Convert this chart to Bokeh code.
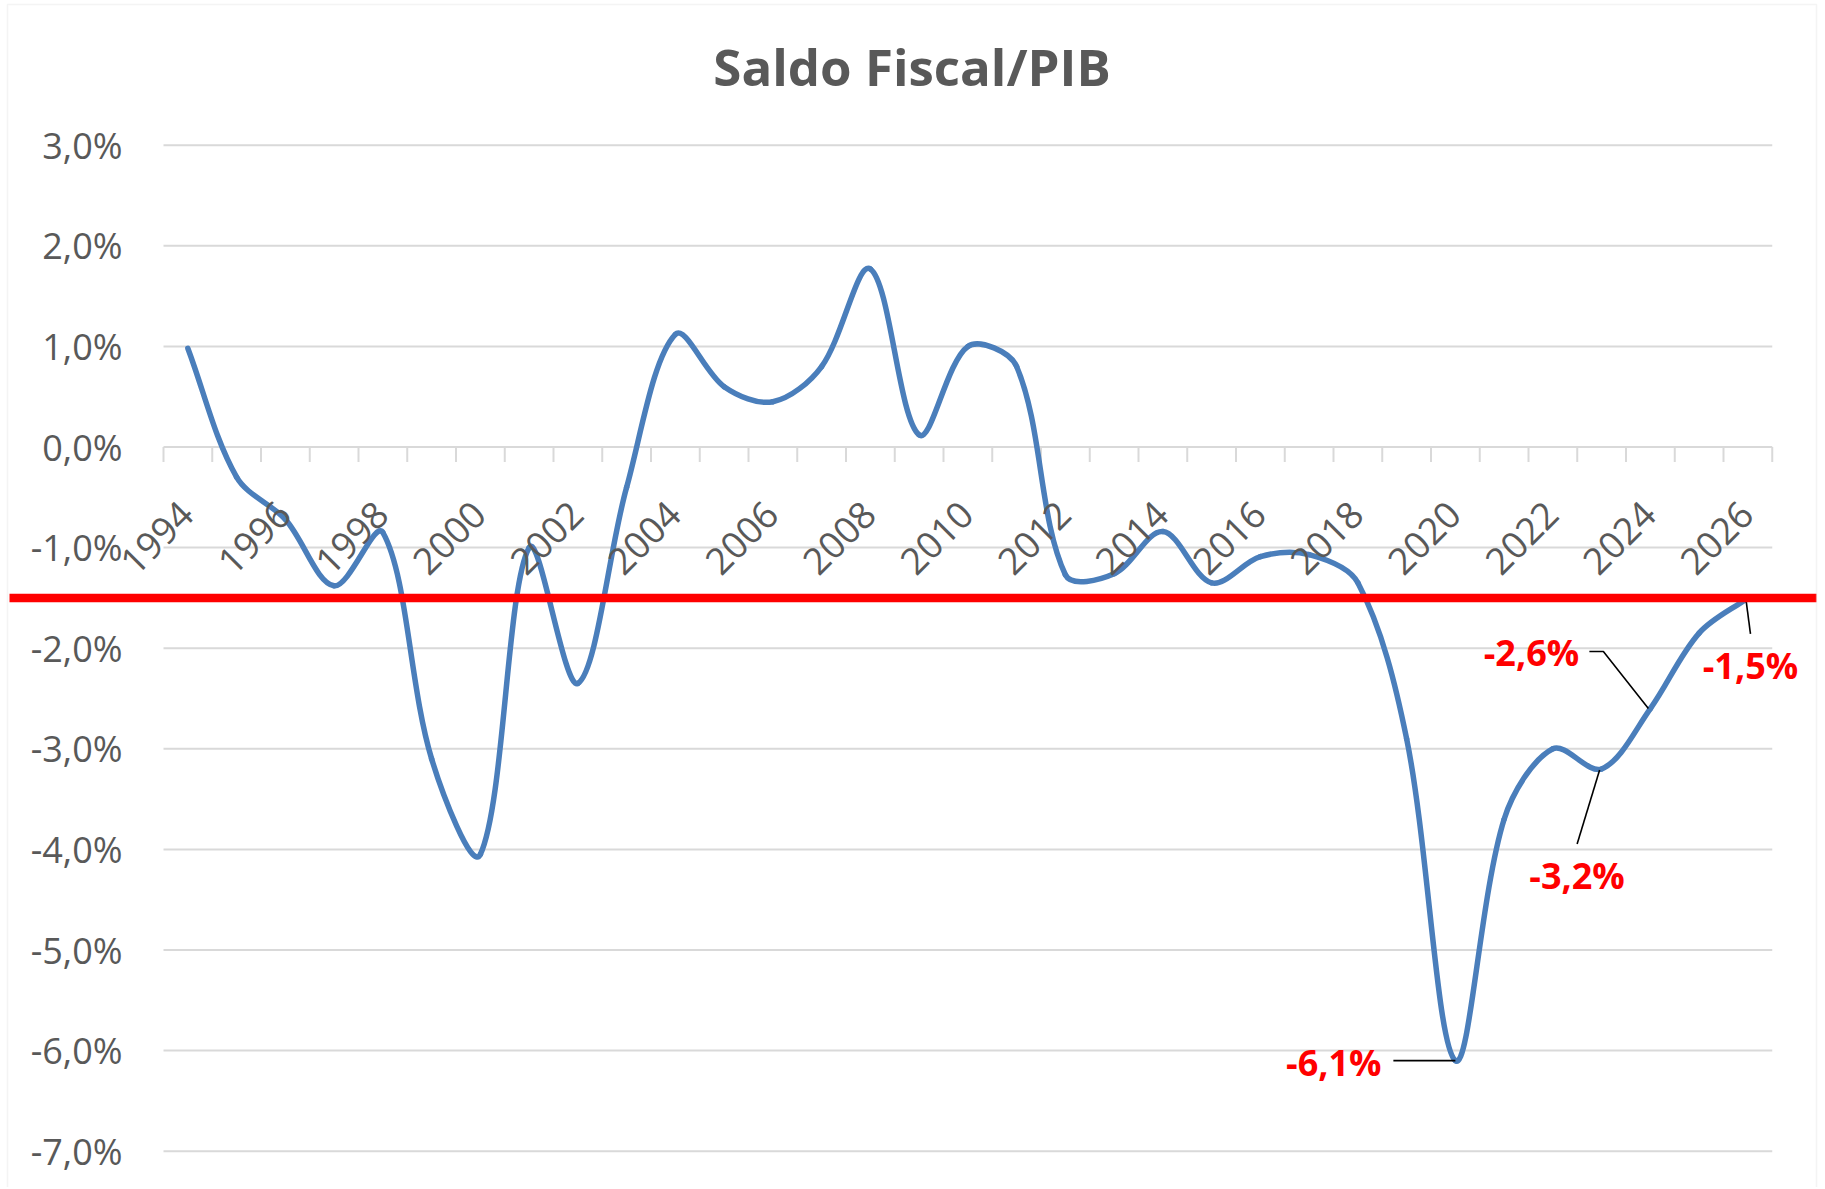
import numpy as np
from bokeh.plotting import figure
from bokeh.models import Range1d, BoxAnnotation
from bokeh.core.properties import value
from bokeh.embed import file_html
from bokeh.resources import INLINE

# ---------------- data ----------------
years = list(range(1994, 2027))
saldo = [0.98, -0.30, -0.72, -1.38, -0.85, -3.10, -4.05, -1.00, -2.35, -0.40,
         1.12, 0.60, 0.45, 0.80, 1.77, 0.12, 1.00, 0.80, -1.27, -1.26,
         -0.84, -1.35, -1.09, -1.07, -1.35, -2.90, -6.10, -3.70, -3.00, -3.20,
         -2.60, -1.85, -1.50]
label_years = years[::2]
y_ticks = [3, 2, 1, 0, -1, -2, -3, -4, -5, -6, -7]
ref_level = -1.5
callout_years = [2020, 2024, 2023, 2026]
title_text = "Saldo Fiscal/PIB"

# ---------------- layout (pixels) ----------------
W, H = 1822, 1187
PL, PR = 163.0, 1771.75          # plot area left / right
PT, PB = 144.7, 1150.7           # y of top tick / bottom tick
X0, X1 = years[0] - 0.5, years[-1] + 0.5
Y0, Y1 = min(y_ticks), max(y_ticks)
PXX = (PR - PL) / (X1 - X0)
PXY = (PB - PT) / (Y1 - Y0)

def px_x(px):
    return X0 + (px - PL) / PXX

def px_y(py):
    return Y1 - (py - PT) / PXY

def fmt(v):
    return f"{v:.1f}".replace(".", ",") + "%"

GRAY = "#595959"
GRID = "#d9d9d9"
BLUE = "#4a7ebb"
FONT = value("Open Sans")

p = figure(width=W, height=H, x_range=Range1d(px_x(0), px_x(W)),
           y_range=Range1d(px_y(H), px_y(0)),
           output_backend="svg", toolbar_location=None,
           x_axis_location=None, y_axis_location=None,
           min_border=0)
p.outline_line_color = None
p.background_fill_color = "white"
p.border_fill_color = "white"
p.xgrid.visible = False
p.ygrid.visible = False

# horizontal gridlines and value labels
p.segment(x0=[X0] * len(y_ticks), y0=y_ticks, x1=[X1] * len(y_ticks), y1=y_ticks,
          line_color=GRID, line_width=2)
p.text(x=[X0] * len(y_ticks), y=y_ticks, text=[fmt(t) for t in y_ticks],
       x_offset=-41, text_align="right", text_baseline="middle",
       text_font=FONT, text_font_size="36px", text_color=GRAY)

# category tick marks on the zero line
bounds = [y - 0.5 for y in years] + [years[-1] + 0.5]
p.segment(x0=bounds, y0=[0] * len(bounds), x1=bounds,
          y1=[-15 / PXY] * len(bounds), line_color=GRID, line_width=2)

# smoothed line: Bezier segments through the data points
P = np.column_stack([(np.array(years) - X0) * PXX, -np.array(saldo) * PXY])  # px space
n = len(P)
t = 1.0 / 3.0
c_before = np.zeros_like(P)
c_after = np.zeros_like(P)
for i in range(n):
    prv = P[max(i - 1, 0)]
    nxt = P[min(i + 1, n - 1)]
    d01 = np.hypot(*(P[i] - prv))
    d12 = np.hypot(*(nxt - P[i]))
    s = d01 + d12
    fa = t * d01 / s if s else 0.0
    fb = t * d12 / s if s else 0.0
    c_before[i] = P[i] - fa * (nxt - prv)
    c_after[i] = P[i] + fb * (nxt - prv)
to_dx = lambda a: X0 + a / PXX
to_dy = lambda a: -a / PXY
p.bezier(x0=years[:-1], y0=saldo[:-1], x1=years[1:], y1=saldo[1:],
         cx0=to_dx(c_after[:-1, 0]), cy0=to_dy(c_after[:-1, 1]),
         cx1=to_dx(c_before[1:, 0]), cy1=to_dy(c_before[1:, 1]),
         line_color=BLUE, line_width=5.5, line_cap="round")

# rotated category labels below the zero line
p.text(x=label_years, y=[0] * len(label_years), text=[str(y) for y in label_years],
       angle=np.pi / 4, text_align="right", text_baseline="middle",
       x_offset=-1, y_offset=61, text_font=FONT,
       text_font_size="37px", text_color=GRAY)

# reference line across the whole chart
half = 4.25 / PXY
p.add_layout(BoxAnnotation(left=px_x(9), right=px_x(1816),
                           top=ref_level + half, bottom=ref_level - half,
                           fill_color="#ff0000", fill_alpha=1.0, line_color=None))

# callouts: text centre offset (px) and leader path (px), screen y down
text_off = {2020: (-121.6, 2.2), 2024: (-118.9, -55.7), 2023: (-24.6, 107), 2026: (2.6, 67.5)}
leader_off = {2020: [(0, 0), (-62, 0)],
              2024: [(-2, 0), (-47, -57), (-61, -57)],
              2023: [(-2, 1), (-24.5, 75)],
              2026: [(-2, 1), (2.6, 36)]}
tx, ty, tt, lxs, lys = [], [], [], [], []
for yr in callout_years:
    v = saldo[years.index(yr)]
    dx, dy = text_off[yr]
    tx.append(yr + dx / PXX)
    ty.append(v - dy / PXY)
    tt.append(fmt(v))
    lxs.append([yr + a / PXX for a, b in leader_off[yr]])
    lys.append([v - b / PXY for a, b in leader_off[yr]])
p.multi_line(xs=lxs, ys=lys, line_color="black", line_width=1.6)
p.text(x=tx, y=ty, text=tt, text_align="center", text_baseline="middle",
       text_font=FONT, text_font_style="bold",
       text_font_size="36px", text_color="#ff0000")

# title
p.text(x=[px_x(911.5)], y=[px_y(65.5)], text=[title_text], text_align="center",
       text_baseline="middle", text_font=FONT, text_font_style="bold",
       text_font_size="51px", text_color=GRAY)

# chart border
p.add_layout(BoxAnnotation(left=px_x(7), right=px_x(1816), top=px_y(4), bottom=px_y(H + 20),
                           fill_alpha=0, line_color=GRID, line_width=1.5))

open("out.html", "w").write(file_html(p, INLINE))
